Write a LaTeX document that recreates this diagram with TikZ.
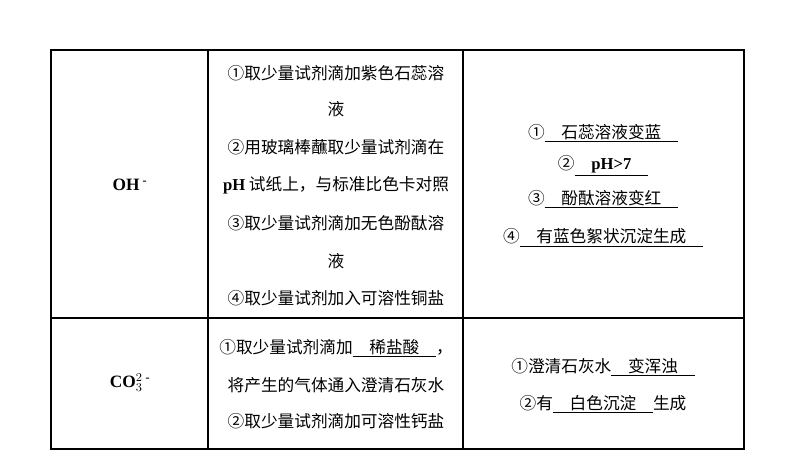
\documentclass[tikz,border=0pt]{standalone}
\usepackage{fontspec}
\newfontfamily\cjk{Noto Sans CJK SC}
\setmainfont{Liberation Serif}
\newcommand{\blank}[1]{\underline{\hbox{\quad#1\quad}}}
\begin{document}
\begin{tikzpicture}[x=0.75pt,y=-0.75pt,
  cell/.style={font=\fontsize{12.5}{14}\selectfont\cjk, inner sep=0pt, anchor=center},
  ion/.style={font=\fontsize{13}{14}\selectfont\bfseries, inner sep=0pt}]
\useasboundingbox (0,0) rectangle (794,458);
% table grid
\draw [line width=0.8pt] (51,50) rectangle (744,449);
\draw [line width=0.8pt] (51,318) -- (744,318);
\draw [line width=0.8pt] (208,50) -- (208,449);
\draw [line width=0.8pt] (463,50) -- (463,449);
% first row
\node (ohion) at (130,185) [ion] {OH\,\textsuperscript{-}};
\node (oha) at (336,73) [cell] {①取少量试剂滴加紫色石蕊溶};
\node (ohb) at (336,109) [cell] {液};
\node (ohc) at (336,147) [cell] {②用玻璃棒蘸取少量试剂滴在};
\node (ohd) at (336,185) [cell] {{\rmfamily\bfseries pH} 试纸上，与标准比色卡对照};
\node (ohe) at (336,223) [cell] {③取少量试剂滴加无色酚酞溶};
\node (ohf) at (336,261) [cell] {液};
\node (ohg) at (336,298) [cell] {④取少量试剂加入可溶性铜盐};
\node (ohr1) at (603,133) [cell] {①\blank{石蕊溶液变蓝}};
\node (ohr2) at (603,166) [cell] {②\blank{\rmfamily\bfseries pH>7}};
\node (ohr3) at (603,199) [cell] {③\blank{酚酞溶液变红}};
\node (ohr4) at (603,238) [cell] {④\blank{有蓝色絮状沉淀生成}};
% second row
\node (coion) at (130,383) [ion] {CO$_3^{2}$\,\textsuperscript{-}};
\node (coa) at (336,348) [cell] {①取少量试剂滴加\blank{稀盐酸}，};
\node (cob) at (336,385) [cell] {将产生的气体通入澄清石灰水};
\node (coc) at (336,421) [cell] {②取少量试剂滴加可溶性钙盐};
\node (cor1) at (603,367) [cell] {①澄清石灰水\blank{变浑浊}};
\node (cor2) at (603,404) [cell] {②有\blank{白色沉淀}生成};
\end{tikzpicture}
\end{document}
